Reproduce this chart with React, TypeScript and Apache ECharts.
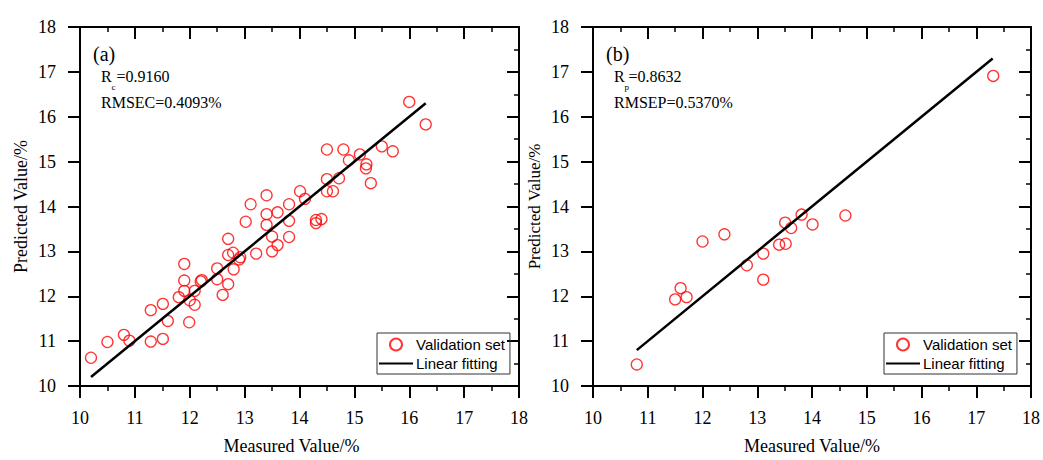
import React, { useEffect, useRef } from "react";
import * as echarts from "echarts";

// Panel (a): calibration/validation points
const measuredA = [
  10.2, 10.5, 10.8, 10.9, 11.29, 11.51, 11.29, 11.51, 11.6, 11.99, 12.09, 11.8, 11.9, 11.9, 11.9, 12.0,
  12.09, 12.2, 12.22, 12.5, 12.5, 12.6, 12.7, 12.7, 12.7, 12.79, 12.8, 12.9, 12.92, 13.02, 13.11, 13.21,
  13.4, 13.4, 13.4, 13.5, 13.5, 13.6, 13.6, 13.81, 13.81, 13.81, 14.01, 14.1, 14.3, 14.4, 14.3, 14.5,
  14.5, 14.5, 14.61, 14.72, 14.8, 14.9, 15.1, 15.22, 15.21, 15.3, 15.5, 15.7, 16.0, 16.3,
];
const predictedA = [
  10.63, 10.98, 11.14, 11.01, 10.99, 11.05, 11.69, 11.83, 11.45, 11.42, 11.81, 11.98, 12.12, 12.35, 12.72, 11.91,
  12.12, 12.33, 12.36, 12.62, 12.38, 12.03, 12.27, 13.28, 12.92, 12.97, 12.6, 12.82, 12.87, 13.66, 14.05, 12.95,
  14.25, 13.83, 13.59, 13.33, 13.0, 13.87, 13.14, 14.05, 13.68, 13.32, 14.34, 14.17, 13.7, 13.72, 13.63, 15.27,
  14.61, 14.34, 14.34, 14.63, 15.27, 15.03, 15.16, 14.94, 14.85, 14.52, 15.34, 15.23, 16.33, 15.83,
];
const fitA = [10.2, 16.3];

// Panel (b): prediction points
const measuredB = [10.8, 11.5, 11.6, 11.71, 12.0, 12.4, 12.81, 13.11, 13.11, 13.4, 13.52, 13.51, 13.62, 13.81, 14.01, 14.61, 17.31];
const predictedB = [10.48, 11.93, 12.18, 11.98, 13.22, 13.38, 12.69, 12.95, 12.37, 13.15, 13.17, 13.64, 13.52, 13.82, 13.6, 13.8, 16.91];
const fitB = [10.8, 17.3];

const axisRange = { min: 10, max: 18, interval: 1 };
const xTitle = "Measured Value/%";
const yTitle = "Predicted Value/%";
const seriesNames = ["Validation set", "Linear fitting"];
const statsA = { panel: "(a)", sub: "c", r: "=0.9160", rmse: "RMSEC=0.4093%" };
const statsB = { panel: "(b)", sub: "p", r: "=0.8632", rmse: "RMSEP=0.5370%" };

const SERIF = "Liberation Serif";
const SANS = "Liberation Sans";

function buildAxes(gridIndex: number, yNameSize: number, xNameShift: number) {
  const line = { show: true, onZero: false, lineStyle: { color: "#000", width: 2 } };
  const label = { fontSize: 18, fontFamily: SERIF, color: "#000" };
  return {
    x: [
      {
        type: "value", gridIndex, position: "bottom", ...axisRange,
        axisLine: line,
        axisTick: { show: true, inside: false, length: 12, lineStyle: { color: "#000", width: 2 } },
        minorTick: { show: true, splitNumber: 2, length: 5, lineStyle: { color: "#000", width: 1.5 } },
        splitLine: { show: false },
        axisLabel: { ...label, margin: 23 },
        name: xTitle, nameLocation: "middle", nameGap: 51,
        nameTextStyle: { fontSize: 18, fontFamily: SERIF, color: "#000", padding: [0, xNameShift, 0, 0] },
      },
      {
        type: "value", gridIndex, position: "top", ...axisRange,
        axisLine: line,
        axisTick: { show: true, inside: true, length: 12, lineStyle: { color: "#000", width: 2 } },
        minorTick: { show: true, splitNumber: 2, length: 5, lineStyle: { color: "#000", width: 1.5 } },
        splitLine: { show: false },
        axisLabel: { show: false },
      },
    ],
    y: [
      {
        type: "value", gridIndex, position: "left", ...axisRange,
        axisLine: line,
        axisTick: { show: true, inside: false, length: 12, lineStyle: { color: "#000", width: 2 } },
        splitLine: { show: false },
        axisLabel: { ...label, margin: 24 },
        name: yTitle, nameLocation: "middle", nameGap: 50,
        nameTextStyle: { fontSize: yNameSize, fontFamily: SERIF, color: "#000" },
      },
      {
        type: "value", gridIndex, position: "right", ...axisRange,
        axisLine: line,
        axisTick: { show: true, inside: true, length: 12, lineStyle: { color: "#000", width: 2 } },
        minorTick: { show: true, splitNumber: 2, length: 5, lineStyle: { color: "#000", width: 1.5 } },
        splitLine: { show: false },
        axisLabel: { show: false },
      },
    ],
  };
}

function statTexts(s: typeof statsA, x: number, subX: number, eqX: number) {
  const t = (tx: number, ty: number, text: string, size: number) => ({
    type: "text",
    x: tx,
    y: ty,
    style: { text, font: `${size}px "${SERIF}"`, fontFamily: SERIF, fontSize: size, fill: "#000", verticalAlign: "middle" },
  });
  return [
    t(x - 8, 54, s.panel, 20),
    t(x, 76, "R", 16),
    t(subX, 87, s.sub, 9),
    t(eqX, 76, s.r, 16),
    t(x, 102, s.rmse, 16),
  ];
}

export default function App() {
  const ref = useRef<HTMLDivElement>(null);
  useEffect(() => {
    if (!ref.current) return;
    const chart = echarts.init(ref.current, null, { renderer: "svg" });
    const a = buildAxes(0, 18, 16);
    const b = buildAxes(1, 17, 0);
    const scatterStyle = { color: "rgba(0,0,0,0)", borderColor: "#ff0000", borderWidth: 1.3 };
    const legendCommon = {
      orient: "vertical",
      data: [
        { name: seriesNames[0] },
        { name: seriesNames[1], itemStyle: { color: "rgba(0,0,0,0)", borderColor: "rgba(0,0,0,0)", borderWidth: 0, opacity: 0 } },
      ],
      itemWidth: 34,
      itemHeight: 12,
      itemGap: 4,
      padding: [4, 5, 3, 1],
      borderColor: "#333",
      borderWidth: 1,
      selectedMode: false,
      textStyle: { fontSize: 15, fontFamily: SANS, color: "#000", padding: [0, 0, 0, -2] },
    };
    chart.setOption({
      animation: false,
      backgroundColor: "#fff",
      grid: [
        { left: 80, top: 27, width: 439, height: 365 },
        { left: 593, top: 27, width: 438, height: 365 },
      ],
      xAxis: [...a.x, ...b.x],
      yAxis: [...a.y, ...b.y],
      legend: [
        { ...legendCommon, left: 377, top: 333 },
        { ...legendCommon, left: 884, top: 333 },
      ],
      series: [
        {
          name: seriesNames[0], type: "scatter", xAxisIndex: 0, yAxisIndex: 0,
          symbol: "circle", symbolSize: 11, itemStyle: scatterStyle,
          data: measuredA.map((m, i) => [m, predictedA[i]]),
        },
        {
          name: seriesNames[1], type: "line", xAxisIndex: 0, yAxisIndex: 0,
          symbol: "none", showSymbol: false, z: 5, lineStyle: { color: "#000", width: 2.5 }, itemStyle: { color: "#000" },
          data: fitA.map((v) => [v, v]),
        },
        {
          name: seriesNames[0], type: "scatter", xAxisIndex: 2, yAxisIndex: 2,
          symbol: "circle", symbolSize: 11, itemStyle: scatterStyle,
          data: measuredB.map((m, i) => [m, predictedB[i]]),
        },
        {
          name: seriesNames[1], type: "line", xAxisIndex: 2, yAxisIndex: 2,
          symbol: "none", showSymbol: false, z: 5, lineStyle: { color: "#000", width: 2.5 }, itemStyle: { color: "#000" },
          data: fitB.map((v) => [v, v]),
        },
      ],
      graphic: [
        ...statTexts(statsA, 101, 111.5, 116.5),
        ...statTexts(statsB, 614, 624.5, 628.5),
      ],
    });
    return () => chart.dispose();
  }, []);
  return <div ref={ref} style={{ position: "absolute", left: 0, top: 0, width: 1043, height: 460 }} />;
}
